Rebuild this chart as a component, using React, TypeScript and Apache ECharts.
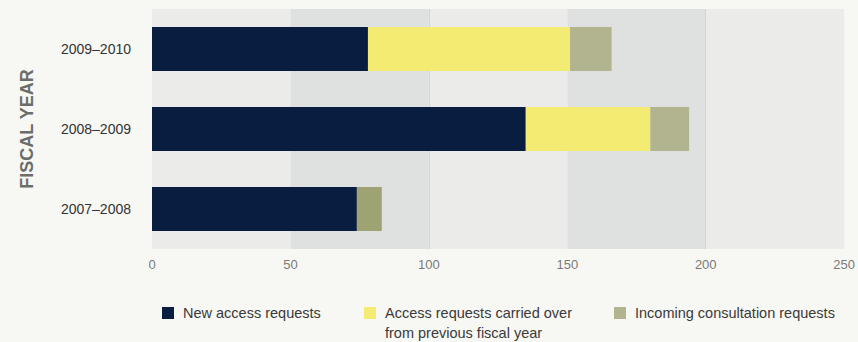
import React, { useEffect, useRef } from "react";
import * as echarts from "echarts";

const years = ["2007–2008", "2008–2009", "2009–2010"];
const newAccess = [74, 135, 78];
const carriedOver = [0, 45, 73];
const consultation = [9, 14, 15];
const xTicks = [0, 50, 100, 150, 200, 250];

const seriesNames = [
  "New access requests",
  "Access requests carried over\nfrom previous fiscal year",
  "Incoming consultation requests",
];

const FONT = "'Liberation Sans', Arial, sans-serif";

export default function App() {
  const ref = useRef<HTMLDivElement>(null);
  useEffect(() => {
    if (!ref.current) return;
    const chart = echarts.init(ref.current, undefined, { renderer: "svg" });
    const legendBase = {
      orient: "horizontal" as const,
      icon: "rect",
      itemWidth: 12,
      itemHeight: 12,
      padding: 0,
      selectedMode: false,
      top: 303,
      textStyle: {
        fontFamily: FONT,
        fontSize: 14.5,
        color: "#3a3a3a",
        lineHeight: 20,
        padding: [0, 0, 0, 4],
      },
    };
    chart.setOption({
      animation: false,
      backgroundColor: "#f7f7f3",
      grid: { left: 152, right: 13, top: 9, bottom: 93 },
      legend: [
        { ...legendBase, data: [seriesNames[0]], left: 162 },
        {
          ...legendBase,
          data: [
            {
              name: seriesNames[1],
              icon: "path://M0,0H12V12H0Z M0,32L0.01,32Z",
            },
          ],
          itemHeight: 32,
          left: 364,
        },
        { ...legendBase, data: [seriesNames[2]], left: 614 },
      ],
      xAxis: {
        type: "value",
        min: xTicks[0],
        max: xTicks[xTicks.length - 1],
        interval: 50,
        axisLine: { show: false },
        axisTick: { show: false },
        axisLabel: {
          fontFamily: FONT,
          fontSize: 13,
          color: "#7a7a7a",
          margin: 9,
        },
        splitArea: {
          show: true,
          areaStyle: { color: ["#ebebe9", "#dfe0e0"] },
        },
        splitLine: {
          show: true,
          lineStyle: {
            width: 1,
            color: [
              "rgba(0,0,0,0)",
              "rgba(0,0,0,0)",
              "#d2d4d4",
              "rgba(0,0,0,0)",
              "#d2d4d4",
              "rgba(0,0,0,0)",
            ],
          },
        },
      },
      yAxis: {
        type: "category",
        data: years,
        name: "FISCAL YEAR",
        nameLocation: "middle",
        nameRotate: 90,
        nameGap: 116,
        nameTextStyle: {
          fontFamily: FONT,
          fontWeight: "bold",
          fontSize: 18,
          color: "#6b6d6b",
        },
        axisLine: { show: false },
        axisTick: { show: false },
        axisLabel: {
          fontFamily: FONT,
          fontSize: 14,
          color: "#333333",
          margin: 21,
        },
      },
      series: [
        {
          name: seriesNames[0],
          type: "bar",
          stack: "total",
          barWidth: 44,
          itemStyle: { color: "#081d3f" },
          data: newAccess,
        },
        {
          name: seriesNames[1],
          type: "bar",
          stack: "total",
          barWidth: 44,
          itemStyle: { color: "#f4ec72" },
          data: carriedOver,
        },
        {
          name: seriesNames[2],
          type: "bar",
          stack: "total",
          barWidth: 44,
          itemStyle: { color: "#b1b48e" },
          data: consultation.map((v, i) =>
            i === 0 ? { value: v, itemStyle: { color: "#9fa374" } } : v
          ),
        },
      ],
    });
    return () => chart.dispose();
  }, []);
  return (
    <div
      ref={ref}
      style={{ width: 858, height: 342, position: "absolute", left: 0, top: 0 }}
    />
  );
}
